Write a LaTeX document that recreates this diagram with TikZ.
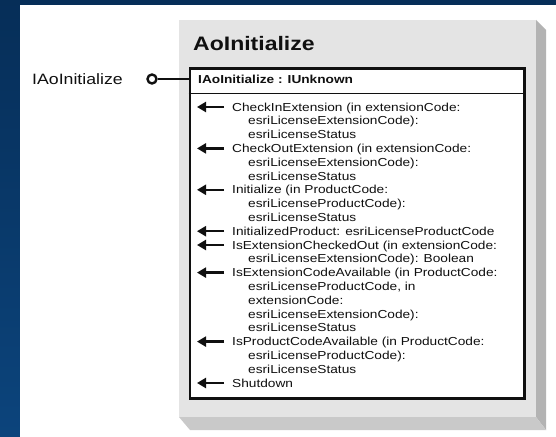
\documentclass[tikz,border=0pt]{standalone}
\usepackage{fontspec}
\setmainfont{Liberation Sans}
\newfontfamily\sfx[FakeStretch=1.18]{Liberation Sans}
\usetikzlibrary{arrows.meta}
\definecolor{bgtop}{HTML}{062E58}
\definecolor{bgbot}{HTML}{0C447C}
\definecolor{panel}{HTML}{E4E4E4}
\definecolor{shR}{HTML}{B3B3B3}
\definecolor{shB}{HTML}{C9C9C9}
\definecolor{ink}{HTML}{101010}
\begin{document}
\begin{tikzpicture}[x=1pt,y=-1pt,
  mem/.style={anchor=base west, inner sep=0pt, text=ink,
    font=\sfx\fontsize{11.6}{13.8}\selectfont},
  memhead/.style={line width=2.4pt, ink, -{Triangle[length=9pt,width=10pt]}},
  thick line/.style={line width=2.2pt, ink}]
\useasboundingbox (0,0) rectangle (556,436);
% background
\fill[top color=bgtop, bottom color=bgbot] (0,0) rectangle (556,436);
\fill[white] (20,5) rectangle (557,437);
% gray class box with 3D edge
\fill[shR] (536,20) -- (546,30) -- (546,430) -- (536,417) -- cycle;
\fill[shB] (179,417) -- (536,417) -- (546,430) -- (190,430) -- cycle;
\fill[panel] (179,20) rectangle (536,417);
% title
\node[anchor=base west, inner sep=0pt, text=ink,
  font=\sfx\bfseries\fontsize{19.5}{23}\selectfont] (title) at (193,50) {AoInitialize};
% interface box
\node[draw=ink, line width=2.6pt, fill=white, anchor=north west, inner sep=0pt,
  minimum width=334.5pt, minimum height=330pt] (ibox) at (188.5,67) {};
\coordinate (hs) at (0,93);
\draw[line width=1pt, ink] (ibox.west |- hs) -- (ibox.east |- hs);
\node[anchor=base west, inner sep=0pt, text=ink,
  font=\sfx\bfseries\fontsize{11.6}{13.8}\selectfont] (head) at (198,83.5) {IAoInitialize : IUnknown};
% lollipop
\node[anchor=base west, inner sep=0pt, text=ink,
  font=\sfx\fontsize{15}{18}\selectfont] (lbl) at (32,84.5) {IAoInitialize};
\node[circle, draw=ink, line width=2.4pt, fill=white, minimum size=9pt, inner sep=0pt] (lol) at (152,79) {};
\draw[thick line] (lol) -- (lol -| ibox.west);
% members
\foreach \k/\ind/\txt in {
  0/0/{CheckInExtension (in extensionCode:},
  1/16/{esriLicenseExtensionCode):},
  2/16/{esriLicenseStatus},
  3/0/{CheckOutExtension (in extensionCode:},
  4/16/{esriLicenseExtensionCode):},
  5/16/{esriLicenseStatus},
  6/0/{Initialize (in ProductCode:},
  7/16/{esriLicenseProductCode):},
  8/16/{esriLicenseStatus},
  9/0/{InitializedProduct: esriLicenseProductCode},
  10/0/{IsExtensionCheckedOut (in extensionCode:},
  11/16/{esriLicenseExtensionCode): Boolean},
  12/0/{IsExtensionCodeAvailable (in ProductCode:},
  13/16/{esriLicenseProductCode, in},
  14/16/{extensionCode:},
  15/16/{esriLicenseExtensionCode):},
  16/16/{esriLicenseStatus},
  17/0/{IsProductCodeAvailable (in ProductCode:},
  18/16/{esriLicenseProductCode):},
  19/16/{esriLicenseStatus},
  20/0/{Shutdown}}
  \node[mem] (m\k) at ({232+\ind},{111+13.8*\k}) {\txt};
\foreach \m in {m0,m3,m6,m9,m10,m12,m17,m20}
  \draw[memhead] ([shift={(-8pt,4pt)}]\m.base west) -- ([shift={(-35pt,4pt)}]\m.base west);
\end{tikzpicture}
\end{document}
